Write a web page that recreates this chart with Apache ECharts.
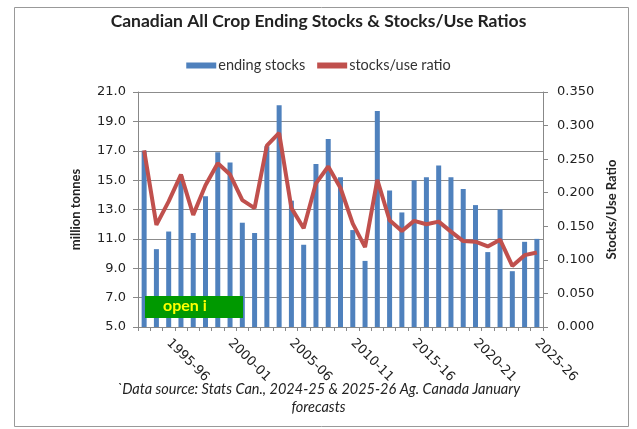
<!DOCTYPE html>
<html><head><meta charset="utf-8">
<script src="https://cdn.jsdelivr.net/npm/echarts@6/dist/echarts.min.js"></script>
<style>html,body{margin:0;padding:0;background:#fff}#c{width:637px;height:429px}</style>
</head><body><div id="c"></div>
<script>
const categories = ["1993-94","1994-95","1995-96","1996-97","1997-98","1998-99","1999-00","2000-01","2001-02","2002-03","2003-04","2004-05","2005-06","2006-07","2007-08","2008-09","2009-10","2010-11","2011-12","2012-13","2013-14","2014-15","2015-16","2016-17","2017-18","2018-19","2019-20","2020-21","2021-22","2022-23","2023-24","2024-25","2025-26"];
const endingStocks = [17.0,10.3,11.5,15.3,11.4,13.9,16.9,16.2,12.1,11.4,17.3,20.1,13.6,10.6,16.1,17.8,15.2,11.6,9.5,19.7,14.3,12.8,15.0,15.2,16.0,15.2,14.4,13.3,10.1,13.0,8.8,10.8,11.0];
const stocksUseRatio = [0.263,0.152,0.187,0.227,0.167,0.211,0.244,0.227,0.189,0.177,0.270,0.289,0.177,0.147,0.214,0.239,0.207,0.154,0.119,0.219,0.159,0.143,0.158,0.153,0.157,0.142,0.128,0.127,0.120,0.130,0.091,0.107,0.111];
const leftTicks = {min:5, max:21, interval:2};
const rightTicks = {min:0, max:0.35, interval:0.05};

const chart = echarts.init(document.getElementById('c'), null, {renderer:'canvas'});
const F = 'Lato, "Open Sans", sans-serif';
const T = '"DejaVu Sans", sans-serif';
chart.setOption({
  animation:false,
  backgroundColor:'#fff',
  title:{text:'Canadian All Crop Ending Stocks & Stocks/Use Ratios', left:'center', top:7,
    textStyle:{fontFamily:F, fontWeight:'bold', fontSize:17.5, color:'#222'}},
  legend:{top:53, left:'center', itemGap:12, itemWidth:30, itemHeight:6,
    textStyle:{fontFamily:F, fontSize:14.5, color:'#333', padding:[0,0,0,-3]},
    data:[{name:'ending stocks', icon:'rect'},{name:'stocks/use ratio', icon:'rect', itemStyle:{color:'#C0504D'}}]},
  grid:{left:138, right:94, top:92, bottom:102},
  xAxis:{type:'category', data:categories, boundaryGap:true,
    axisLine:{lineStyle:{color:'#888'}},
    axisTick:{show:true, interval:0, length:4, lineStyle:{color:'#888'}},
    axisLabel:{rotate:-45, fontFamily:T, fontSize:13, color:'#222', margin:14,
      interval:function(i){return (i-2)%5===0;}}},
  yAxis:[
    {type:'value', min:leftTicks.min, max:leftTicks.max, interval:leftTicks.interval,
      name:'million tonnes', nameLocation:'middle', nameGap:56, nameRotate:90,
      nameTextStyle:{fontFamily:F, fontWeight:'bold', fontSize:13, color:'#222'},
      axisLine:{show:true, lineStyle:{color:'#888'}}, axisTick:{show:true, length:5, lineStyle:{color:'#888'}},
      splitLine:{lineStyle:{color:'#8c8c8c', width:1}},
      axisLabel:{fontFamily:T, fontSize:13, color:'#222', margin:12,
        formatter:v=>v.toFixed(1)}},
    {type:'value', min:rightTicks.min, max:rightTicks.max, interval:rightTicks.interval,
      name:'Stocks/Use Ratio', nameLocation:'middle', nameGap:58, nameRotate:90,
      nameTextStyle:{fontFamily:F, fontWeight:'bold', fontSize:13, color:'#222'},
      axisLine:{show:true, lineStyle:{color:'#888'}}, axisTick:{show:true, length:5, lineStyle:{color:'#888'}},
      splitLine:{show:false},
      axisLabel:{fontFamily:T, fontSize:13, color:'#222', margin:14,
        formatter:v=>v.toFixed(3)}}
  ],
  series:[
    {name:'ending stocks', type:'bar', data:endingStocks, barWidth:5, yAxisIndex:0,
      itemStyle:{color:'#4F81BD'}},
    {name:'stocks/use ratio', type:'line', data:stocksUseRatio, yAxisIndex:1, symbol:'none',
      lineStyle:{color:'#C0504D', width:4}, itemStyle:{color:'#C0504D'}}
  ],
  graphic:[
    {type:'rect', left:12, top:5, z:0, shape:{width:614, height:419}, style:{fill:'none', stroke:'#999', lineWidth:1}},
    {type:'rect', left:145, top:296, z:100, shape:{width:98, height:22}, style:{fill:'#009900'}},
    {type:'text', left:163, top:298, z:101, style:{text:'open i', fill:'#ffff00', font:'bold 16px Lato, sans-serif'}},
    {type:'text', left:'center', top:380, z:100, style:{text:'`Data source: Stats Can., 2024-25 & 2025-26 Ag. Canada January\nforecasts',
      textAlign:'center', fill:'#222', font:'italic 14.5px Lato, sans-serif', lineHeight:18}}
  ]
});
</script></body></html>
